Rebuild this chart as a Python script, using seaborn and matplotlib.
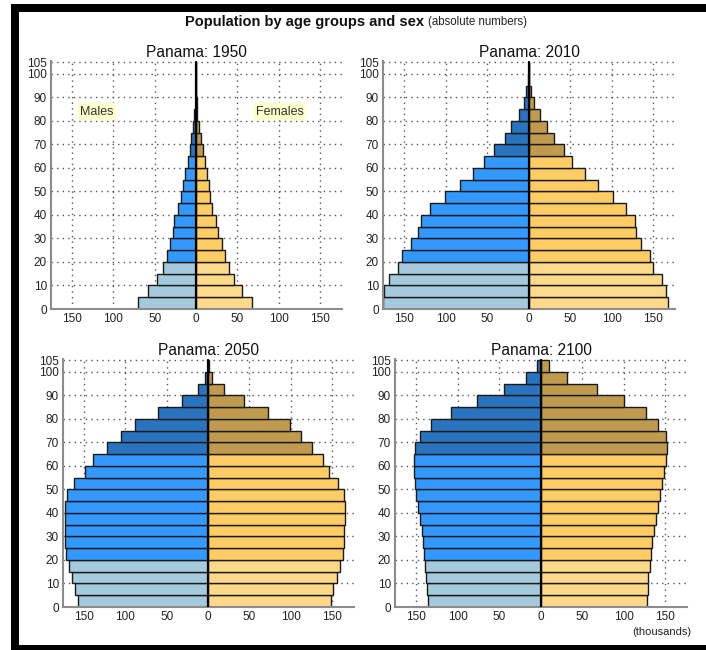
import numpy as np
import pandas as pd
import matplotlib
matplotlib.use("Agg")
import matplotlib.pyplot as plt
from matplotlib.patches import Rectangle
import seaborn as sns

# ---------------- data (thousands) ----------------
age_starts = [0, 5, 10, 15, 20, 25, 30, 35, 40, 45, 50, 55, 60, 65, 70, 75, 80, 85, 90, 95, 100]

males_1950 = [70, 58, 47, 40, 35, 32, 28, 27, 22, 18.5, 16, 13.7, 10, 6.9, 5.6, 3.2, 2, 0.6, 0.2, 0, 0]
females_1950 = [68, 56, 46, 40, 35, 31, 26, 24, 19, 16.5, 15.3, 13, 10.5, 8, 6, 3.2, 1.6, 0.5, 0.1, 0, 0]

males_2010 = [175, 174.6, 168, 157, 152, 141.5, 133, 130, 119, 101, 82.7, 67, 53.6, 41.5, 29, 20.6, 12, 6, 2.8, 0.5, 0.1]
females_2010 = [167.7, 166, 160.5, 150, 146.4, 136, 130, 128.6, 117, 101.6, 83.5, 67.7, 52.4, 42.7, 30.6, 21.8, 13.7, 6, 2.4, 0.8, 0.1]

males_2050 = [157, 161, 164.5, 168, 171.8, 172.6, 172.6, 172.6, 172.6, 170.6, 162.5, 148.8, 139, 122, 105, 88, 60, 31.5, 12, 3.6, 0.3]
females_2050 = [149, 151, 156, 160, 163, 165, 165, 166, 166, 165, 157.7, 146.8, 139, 126, 112.5, 98.8, 73, 44, 19.4, 4.8, 0.5]

males_2100 = [135.5, 136.7, 138, 139, 140.3, 141.5, 142.7, 145, 147.6, 150, 151, 152.4, 152.4, 151, 145, 132, 107.7, 76.6, 44, 17, 4.8]
females_2100 = [127.8, 129, 129, 131.5, 132.7, 134, 136.3, 138.7, 141, 143.5, 146, 148.4, 151, 152.4, 151, 142, 126.6, 101, 68.5, 32.3, 10.5]

years = ["1950", "2010", "2050", "2100"]
country = "Panama"
x_ticks = [-150, -100, -50, 0, 50, 100, 150]
x_tick_labels = ["150", "100", "50", "0", "50", "100", "150"]
y_ticks = [0, 10, 20, 30, 40, 50, 60, 70, 80, 90, 100, 105]

data = {
    "1950": (males_1950, females_1950),
    "2010": (males_2010, females_2010),
    "2050": (males_2050, females_2050),
    "2100": (males_2100, females_2100),
}

palette = {
    "M_young": "#a6cadd", "M_adult": "#3399ff", "M_old": "#2a74bf",
    "F_young": "#ffd98a", "F_adult": "#ffcc66", "F_old": "#c09a4e",
}


def band(a):
    if a < 20:
        return "young"
    if a < 65:
        return "adult"
    return "old"


def make_df(m, f):
    rows = []
    for a, mv, fv in zip(age_starts, m, f):
        rows.append({"age": a + 2.5, "value": -mv, "group": "M_" + band(a)})
        rows.append({"age": a + 2.5, "value": fv, "group": "F_" + band(a)})
    return pd.DataFrame(rows)


# ---------------- figure ----------------
sns.set_theme(style="white")
plt.rcParams["font.family"] = ["Liberation Sans", "DejaVu Sans"]

W, H = 706, 650
fig = plt.figure(figsize=(W / 100, H / 100), dpi=100)
fig.patch.set_facecolor("white")


def px_axes(left, top, right, bottom):
    return fig.add_axes([left / W, 1 - bottom / H, (right - left) / W, (bottom - top) / H])


positions = [
    (51, 61, 342, 309),
    (383, 61, 675, 309),
    (63, 359, 354, 607),
    (395, 359, 687, 607),
]

for yr, pos in zip(years, positions):
    ax = px_axes(*pos)
    m, f = data[yr]
    df = make_df(m, f)
    # grid
    for xv in [-150, -100, -50, 50, 100, 150]:
        ax.axvline(xv, color="#555555", lw=1, ls=(0, (1, 3)), zorder=0)
    for yv in y_ticks[1:]:
        ax.axhline(yv, color="#555555", lw=1, ls=(0, (1, 3)), zorder=0)
    sns.barplot(data=df, x="value", y="age", hue="group", palette=palette,
                orient="y", native_scale=True, dodge=False, width=1,
                saturation=1, edgecolor="#1a1a1a", linewidth=1.0, errorbar=None,
                legend=False, ax=ax, zorder=2)
    ax.plot([0, 0], [0, 105], color="black", lw=1.6, zorder=3)
    ax.set_xlim(-175.5, 176.5)
    ax.set_ylim(0, 105.5)
    ax.set_xticks(x_ticks)
    ax.set_xticklabels(x_tick_labels)
    ax.set_yticks(y_ticks)
    ax.set_yticklabels([str(v) for v in y_ticks])
    ax.tick_params(axis="both", length=0, labelsize=8.5, colors="#222222", pad=3)
    ax.set_xlabel("")
    ax.set_ylabel("")
    for s in ["top", "right"]:
        ax.spines[s].set_visible(False)
    for s in ["left", "bottom"]:
        ax.spines[s].set_color("#8c8c8c")
        ax.spines[s].set_linewidth(1.5)
    ax.set_title(f"{country}: {yr}", fontsize=11.2, color="#111111", pad=3)
    if yr == "1950":
        ax.text(-120, 84, "Males", ha="center", va="center", fontsize=9, color="#333333",
                bbox=dict(boxstyle="square,pad=0.2", fc="#ffffcc", ec="none"), zorder=4)
        ax.text(101, 84, "Females", ha="center", va="center", fontsize=9, color="#333333",
                bbox=dict(boxstyle="square,pad=0.2", fc="#ffffcc", ec="none"), zorder=4)

# main title
fig.text(424 / W, 1 - 22 / H, "Population by age groups and sex", ha="right", va="center",
         fontsize=10.5, fontweight="bold", color="#111111")
fig.text(428 / W, 1 - 22 / H, "(absolute numbers)", ha="left", va="center",
         fontsize=8.3, color="#222222")

fig.text(662 / W, 1 - 632 / H, "(thousands)", ha="center", va="center",
         fontsize=8, color="#222222")

# black frame
fig.add_artist(Rectangle((11 / W, 1 - 12 / H), (W - 11) / W, 8 / H,
                         transform=fig.transFigure, fc="black", ec="none"))
fig.add_artist(Rectangle((11 / W, 0), 8 / W, 1 - 4 / H,
                         transform=fig.transFigure, fc="black", ec="none"))
fig.add_artist(Rectangle((11 / W, 0), (W - 11) / W, 5 / H,
                         transform=fig.transFigure, fc="black", ec="none"))

fig.savefig("out.png", dpi=100)
